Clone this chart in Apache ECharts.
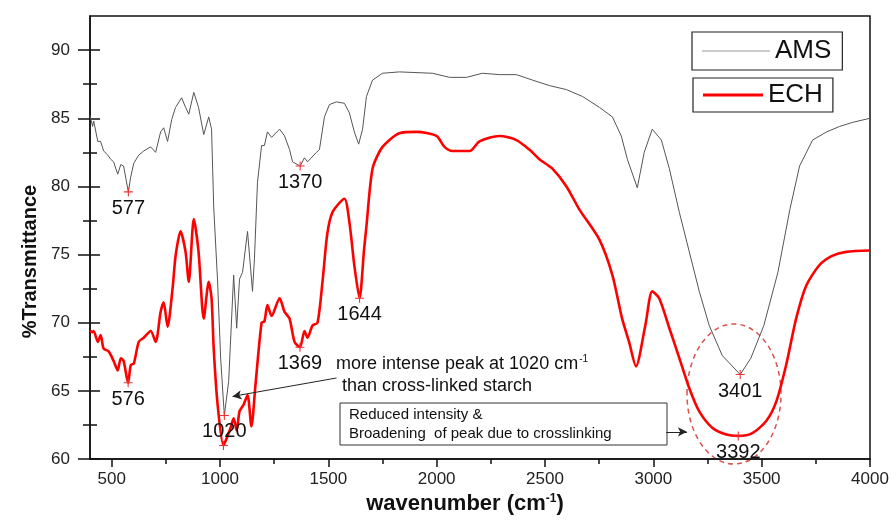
<!DOCTYPE html>
<html>
<head>
    <meta charset="utf-8">
    <title>FTIR AMS / ECH</title>
    <script src="https://cdn.jsdelivr.net/npm/echarts@6/dist/echarts.min.js"></script>
</head>
<body style="margin:0">
    <div id="main" style="width: 896px;height:520px;"></div>
    <script>
        // spectra: [wavenumber, %T]
        var amsData = [[400,85.2],[412,84.4],[417,84.8],[436,83.3],[449,83.3],[463,82.6],[482,82.3],[495,82.0],[509,81.8],[528,80.9],[542,81.6],[555,81.5],[577,79.6],[588,80.7],[602,81.7],[625,82.3],[648,82.6],[680,82.9],[703,82.5],[726,84.0],[740,84.3],[758,83.3],[777,84.9],[795,85.8],[823,86.5],[841,85.8],[856,85.3],[879,86.9],[901,85.8],[925,83.8],[948,85.1],[961,84.2],[971,78.5],[989,73.0],[1003,67.4],[1020,63.2],[1040,65.7],[1063,73.5],[1077,69.6],[1090,73.2],[1104,73.7],[1127,76.7],[1150,72.3],[1159,74.7],[1173,80.3],[1192,83.0],[1205,83.0],[1219,84.0],[1238,83.6],[1275,84.2],[1298,83.7],[1321,82.7],[1335,81.8],[1370,81.5],[1390,82.1],[1404,81.8],[1445,82.5],[1459,82.7],[1482,85.1],[1505,86.0],[1537,86.2],[1574,86.1],[1597,85.4],[1620,84.0],[1640,83.1],[1658,84.2],[1676,86.6],[1704,87.8],[1750,88.3],[1828,88.4],[1981,88.3],[2059,88.0],[2138,88.0],[2211,88.3],[2290,88.2],[2368,88.2],[2442,87.8],[2520,87.4],[2599,87.1],[2673,86.6],[2751,85.8],[2811,85.1],[2852,83.7],[2880,82.0],[2926,79.9],[2958,82.5],[2995,84.2],[3037,83.4],[3074,81.3],[3120,78.1],[3166,75.2],[3212,72.3],[3258,69.8],[3318,67.6],[3401,66.2],[3450,67.4],[3510,69.8],[3575,73.7],[3630,78.3],[3675,81.5],[3735,83.4],[3800,84.0],[3860,84.4],[3920,84.7],[4000,85.0]];

        var echData = [[400,69.4],[412,69.3],[417,69.4],[436,68.6],[449,69.1],[463,68.1],[486,67.9],[509,67.2],[528,66.5],[542,67.4],[555,67.2],[576,65.6],[588,66.9],[602,67.0],[625,68.6],[648,68.9],[680,69.4],[703,68.6],[726,70.8],[740,71.5],[758,69.7],[781,72.5],[795,74.9],[818,76.7],[841,75.2],[856,73.0],[879,77.6],[901,75.2],[925,70.3],[948,73.0],[961,71.8],[971,68.1],[989,64.0],[1016,61.0],[1035,61.7],[1049,62.3],[1063,63.0],[1077,62.1],[1090,63.5],[1109,64.0],[1127,64.7],[1145,62.4],[1164,65.5],[1192,70.0],[1205,70.1],[1219,71.3],[1238,70.5],[1275,71.8],[1298,70.8],[1321,70.3],[1344,68.6],[1369,68.2],[1390,69.4],[1404,68.9],[1427,69.8],[1450,70.0],[1473,73.0],[1495,76.5],[1519,78.1],[1574,79.1],[1597,77.4],[1620,74.2],[1644,71.8],[1665,75.4],[1676,77.1],[1704,81.3],[1750,82.9],[1828,83.9],[1907,84.0],[1999,83.7],[2036,82.9],[2073,82.6],[2152,82.6],[2198,83.3],[2290,83.7],[2368,83.4],[2428,82.7],[2474,82.0],[2534,81.3],[2599,80.0],[2659,78.3],[2751,76.1],[2811,73.5],[2856,70.3],[2888,68.6],[2920,66.8],[2963,69.8],[2995,72.3],[3027,71.8],[3074,69.6],[3120,67.4],[3166,65.2],[3212,63.5],[3272,62.3],[3337,61.8],[3392,61.7],[3457,61.9],[3521,62.8],[3567,64.2],[3613,66.9],[3659,70.3],[3705,72.7],[3765,74.2],[3825,74.9],[3890,75.2],[4000,75.3]];

        // labelled peaks
        var amsPeakX = [577, 1020, 1370, 3401];
        var amsPeakY = [79.6, 63.2, 81.5, 66.2];
        var echPeakX = [576, 1016, 1369, 1644, 3392];
        var echPeakY = [65.6, 61.0, 68.2, 71.8, 61.7];
        var echPeakShown = [true, false, true, true, true];

        // ticks
        var xTicks = [500, 1000, 1500, 2000, 2500, 3000, 3500, 4000];
        var xMinorTicks = [750, 1250, 1750, 2250, 2750, 3250, 3750];
        var yTicks = [60, 65, 70, 75, 80, 85, 90];
        var yMinorTicks = [62.5, 67.5, 72.5, 77.5, 82.5, 87.5];

        var FONT = '"Liberation Sans", Arial, sans-serif';
        var cross = 'path://M4.4,0H5.6V4.4H10V5.6H5.6V10H4.4V5.6H0V4.4H4.4Z';

        function peaks(xs, ys, shown) {
            return xs.map(function (x, i) {
                return {
                    name: String(x),
                    coord: [x, ys[i]],
                    label: { show: shown ? shown[i] : true }
                };
            });
        }

        var markStyle = {
            symbol: cross,
            symbolSize: 9,
            itemStyle: { color: '#e33' },
            label: {
                position: 'bottom',
                distance: 2,
                formatter: '{b}',
                color: '#111',
                fontFamily: FONT,
                fontSize: 20
            }
        };

        function minorAxis(base, extra) {
            return Object.assign({
                axisLine: { show: false },
                axisLabel: { show: false },
                splitLine: { show: false }
            }, base, extra);
        }

        var xBase = { type: 'value', min: 400, max: 4000, position: 'bottom' };
        var yBase = { type: 'value', min: 60, max: 92.5, position: 'left' };

        var myChart = echarts.init(document.getElementById('main'));

        var option = {
            animation: false,
            grid: {
                left: 90, right: 26, top: 16, bottom: 59,
                show: true, borderColor: '#111', borderWidth: 1.5
            },
            legend: [
                {
                    data: ['AMS'], left: 692, top: 32,
                    padding: [6, 11, 6, 10], itemWidth: 68, itemHeight: 1,
                    icon: 'rect', selectedMode: false,
                    borderColor: '#222', borderWidth: 1.2,
                    itemStyle: { color: '#999' },
                    textStyle: { fontFamily: FONT, fontSize: 26, color: '#111', lineHeight: 26 }
                },
                {
                    data: ['ECH'], left: 693, top: 78,
                    padding: [4, 10, 4, 10], itemWidth: 60, itemHeight: 3,
                    icon: 'rect', selectedMode: false,
                    borderColor: '#222', borderWidth: 1.2,
                    textStyle: { fontFamily: FONT, fontSize: 26, color: '#111', lineHeight: 26 }
                }
            ],
            xAxis: [
                Object.assign({}, xBase, {
                    name: '{n|wavenumber (cm}{s|-1}{n|)}',
                    nameLocation: 'middle',
                    nameGap: 30,
                    nameTextStyle: {
                        padding: [0, 30, 0, 0],
                        rich: {
                            n: { fontFamily: FONT, fontSize: 22, fontWeight: 'bold', color: '#111' },
                            s: { fontFamily: FONT, fontSize: 12, fontWeight: 'bold', color: '#111', verticalAlign: 'top', padding: [0, 0, 10, 0] }
                        }
                    },
                    axisLine: { lineStyle: { color: '#111', width: 1.5 } },
                    axisTick: { customValues: xTicks, length: 8, lineStyle: { color: '#111', width: 1.5 } },
                    axisLabel: {
                        customValues: xTicks, margin: 12, fontFamily: FONT, fontSize: 17, color: '#222',
                        formatter: function (v) { return String(v); }
                    },
                    splitLine: { show: false }
                }),
                minorAxis(xBase, {
                    axisTick: { customValues: xMinorTicks, length: 5, lineStyle: { color: '#111', width: 1.5 } }
                })
            ],
            yAxis: [
                Object.assign({}, yBase, {
                    name: '%Transmittance',
                    nameLocation: 'middle',
                    nameGap: 48,
                    nameTextStyle: {
                        fontFamily: FONT, fontSize: 20, fontWeight: 'bold', color: '#111',
                        padding: [0, 48, 0, 0]
                    },
                    axisLine: { lineStyle: { color: '#111', width: 1.5 } },
                    axisTick: { customValues: yTicks, length: 12, lineStyle: { color: '#111', width: 1.5 } },
                    axisLabel: {
                        customValues: yTicks, margin: 20, fontFamily: FONT, fontSize: 17, color: '#222',
                        formatter: function (v) { return String(v); }
                    },
                    splitLine: { show: false }
                }),
                minorAxis(yBase, {
                    axisTick: { customValues: yTicks, inside: true, length: 10, lineStyle: { color: '#111', width: 1.5 } }
                }),
                minorAxis(yBase, {
                    axisTick: { customValues: yMinorTicks, length: 7, lineStyle: { color: '#111', width: 1.5 } }
                }),
                minorAxis(yBase, {
                    axisTick: { customValues: yMinorTicks, inside: true, length: 7, lineStyle: { color: '#111', width: 1.5 } }
                })
            ],
            series: [
                {
                    name: 'AMS',
                    type: 'line',
                    data: amsData,
                    showSymbol: false,
                    color: '#555',
                    lineStyle: { width: 1, color: '#555' },
                    z: 3,
                    markPoint: Object.assign({ data: peaks(amsPeakX, amsPeakY) }, markStyle)
                },
                {
                    name: 'ECH',
                    type: 'line',
                    data: echData,
                    showSymbol: false,
                    smooth: 0.25,
                    color: '#f00',
                    lineStyle: { width: 2.6, color: '#f00' },
                    z: 2,
                    markPoint: Object.assign({ data: peaks(echPeakX, echPeakY, echPeakShown) }, markStyle),
                    markLine: {
                        silent: true,
                        symbol: ['none', 'arrow'],
                        symbolSize: [7, 9],
                        label: { show: false },
                        lineStyle: { color: '#222', width: 1, type: 'solid' },
                        data: [
                            [{ coord: [1538, 65.95] }, { coord: [1058, 64.6] }],
                            [{ coord: [3060, 62.0] }, { coord: [3155, 62.0] }]
                        ]
                    }
                }
            ],
            graphic: [
                {
                    type: 'text', x: 336, y: 364,
                    style: {
                        text: '{a|more intense peak at 1020 cm}{s|-1}',
                        textVerticalAlign: 'middle',
                        rich: {
                            a: { fontFamily: FONT, fontSize: 18, fill: '#111' },
                            s: { fontFamily: FONT, fontSize: 10, fill: '#111', verticalAlign: 'top', padding: [0, 0, 10, 1] }
                        }
                    }
                },
                {
                    type: 'text', x: 342, y: 386,
                    style: {
                        text: 'than cross-linked starch',
                        textVerticalAlign: 'middle',
                        font: '18px ' + FONT, fill: '#111'
                    }
                },
                {
                    type: 'rect',
                    shape: { x: 340, y: 403, width: 327, height: 42 },
                    style: { fill: 'rgba(255,255,255,0)', stroke: '#333', lineWidth: 1 }
                },
                {
                    type: 'text', x: 349, y: 415,
                    style: {
                        text: 'Reduced intensity &',
                        textVerticalAlign: 'middle',
                        font: '15px ' + FONT, fill: '#111'
                    }
                },
                {
                    type: 'text', x: 349, y: 434,
                    style: {
                        text: 'Broadening  of peak due to crosslinking',
                        textVerticalAlign: 'middle',
                        font: '15px ' + FONT, fill: '#111'
                    }
                },
                {
                    type: 'ellipse',
                    shape: { cx: 734, cy: 394, rx: 47, ry: 70 },
                    style: { fill: 'none', stroke: '#d9534f', lineWidth: 1.5, lineDash: [5, 4] }
                }
            ]
        };

        myChart.setOption(option);
    </script>
</body>
</html>
